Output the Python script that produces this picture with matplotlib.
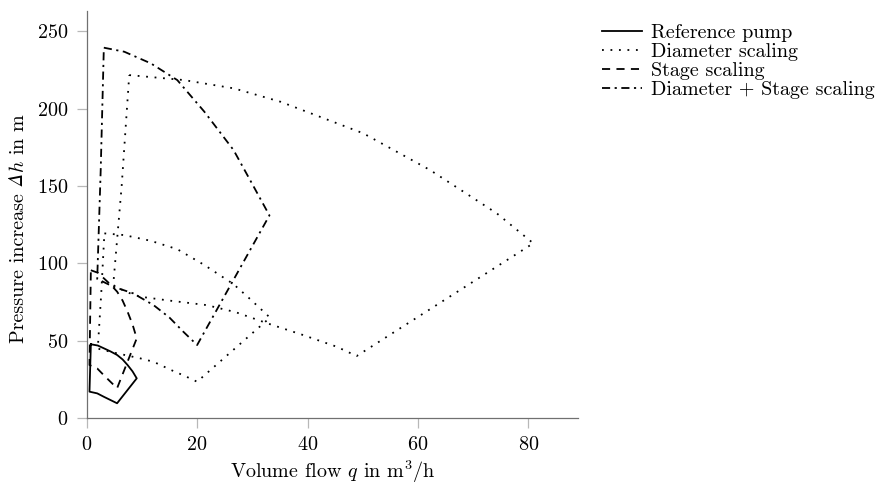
import matplotlib
matplotlib.use('Agg')
import matplotlib.pyplot as plt

plt.rcParams['font.family'] = 'cmr10'
plt.rcParams['mathtext.fontset'] = 'cm'
plt.rcParams['axes.formatter.use_mathtext'] = True
plt.rcParams['font.size'] = 14.5

# Operating ranges: q in m^3/h, h in m.
# Each closed outline: left edge top -> max speed curve -> right edge -> min speed curve -> back.
ref_q = [0.75, 2.0, 3.1, 4.3, 5.5, 6.5, 7.4, 8.3, 9.06, 5.5, 4.3, 3.1, 1.9, 0.5, 0.62, 0.75]
ref_h = [47.8, 47.0, 45.2, 43.2, 40.9, 38.0, 34.4, 30.3, 25.8, 9.7, 11.8, 13.9, 16.1, 17.2, 32.0, 47.8]

stage_q = [0.75, 2.0, 3.1, 4.3, 5.5, 6.5, 7.4, 8.3, 9.06, 5.5, 4.3, 3.1, 1.9, 0.5, 0.62, 0.75]
stage_h = [95.6, 94.0, 90.4, 86.4, 81.8, 76.0, 68.8, 60.6, 51.6, 19.4, 23.6, 27.8, 32.2, 34.4, 64.0, 95.6]

dia1_q = [3.2, 6.8, 11.6, 16.4, 21.3, 26.6, 29.6, 33.2, 20.0, 17.8, 15.7, 12.1, 9.7, 4.8, 2.0, 2.62, 3.2]
dia1_h = [119.4, 118.3, 114.6, 109.2, 99.0, 86.6, 77.0, 65.0, 23.6, 27.3, 30.5, 36.5, 38.7, 42.5, 45.0, 80.0, 119.4]

dia2_q = [7.7, 17.6, 26.7, 35.1, 50.1, 62.2, 74.3, 80.9, 48.9, 45.3, 39.0, 33.0, 27.0, 21.7, 15.0, 9.7, 7.2, 4.8, 6.33, 7.7]
dia2_h = [221.6, 218.4, 213.0, 204.4, 184.0, 160.3, 132.3, 113.0, 40.2, 46.2, 54.0, 61.0, 68.5, 73.1, 76.0, 78.5, 81.5, 86.0, 150.0, 221.6]

both_q = [3.1, 6.8, 11.6, 16.4, 21.3, 26.6, 29.6, 33.1, 20.0, 17.5, 15.0, 12.1, 8.4, 4.8, 1.9, 2.53, 3.1]
both_h = [239.3, 236.7, 229.2, 218.4, 198.0, 173.2, 153.8, 131.0, 47.3, 55.9, 65.0, 73.1, 80.7, 85.0, 90.0, 160.0, 239.3]

W, H = 895, 486
fig = plt.figure(figsize=(W / 100, H / 100), dpi=100)
ax = fig.add_axes([0.0969, 0.1393, 0.5489, 0.8381])

dotted = (0, (1, 3.7))
dashed = (0, (4.5, 3.5))
dashdot = (0, (4.5, 2.5, 1.2, 2.5))

ax.plot(ref_q, ref_h, color='black', lw=1.3, ls='-', label='Reference pump')
ax.plot(dia1_q, dia1_h, color='black', lw=1.3, ls=dotted, label='Diameter scaling')
ax.plot(dia2_q, dia2_h, color='black', lw=1.3, ls=dotted)
ax.plot(stage_q, stage_h, color='black', lw=1.3, ls=dashed, label='Stage scaling')
ax.plot(both_q, both_h, color='black', lw=1.3, ls=dashdot, label='Diameter + Stage scaling')

ax.set_xlim(0, 89)
ax.set_ylim(0, 263)
ax.set_xticks([0, 20, 40, 60, 80])
ax.set_yticks([0, 50, 100, 150, 200, 250])

for side in ['top', 'right']:
    ax.spines[side].set_visible(False)
for side in ['left', 'bottom']:
    ax.spines[side].set_color('#707070')
    ax.spines[side].set_linewidth(0.9)
ax.tick_params(direction='out', length=7, width=0.9, color='#b8b8b8', pad=6)

ax.set_xlabel(r'Volume flow $q$ in $\mathrm{m}^3/\mathrm{h}$', labelpad=3)

# y label built from pieces so the Delta can be italic
fig.canvas.draw()
r = fig.canvas.get_renderer()
parts = [('Pressure increase', {}),
         ('\u0394', {'family': 'STIXGeneral', 'style': 'italic'}),
         (r'$h$ in m', {})]
gaps = [6.5, 1.0, 0]
xb = 24 / W
texts = []
for s, kw in parts:
    t = fig.text(xb, 0, s, rotation=90, rotation_mode='anchor',
                 ha='left', va='baseline', **kw)
    texts.append(t)
lengths = [t.get_window_extent(r).height for t in texts]
total = sum(lengths) + sum(gaps[:-1])
y = (H - 228) - total / 2
for t, L, g in zip(texts, lengths, gaps):
    t.set_y(y / H)
    y += L + g

fig.legend(loc='upper left', bbox_to_anchor=(0.661, 0.972), frameon=False,
           handlelength=2.0, handletextpad=0.45, borderpad=0, labelspacing=0.05)

fig.savefig('out.png', dpi=100)
